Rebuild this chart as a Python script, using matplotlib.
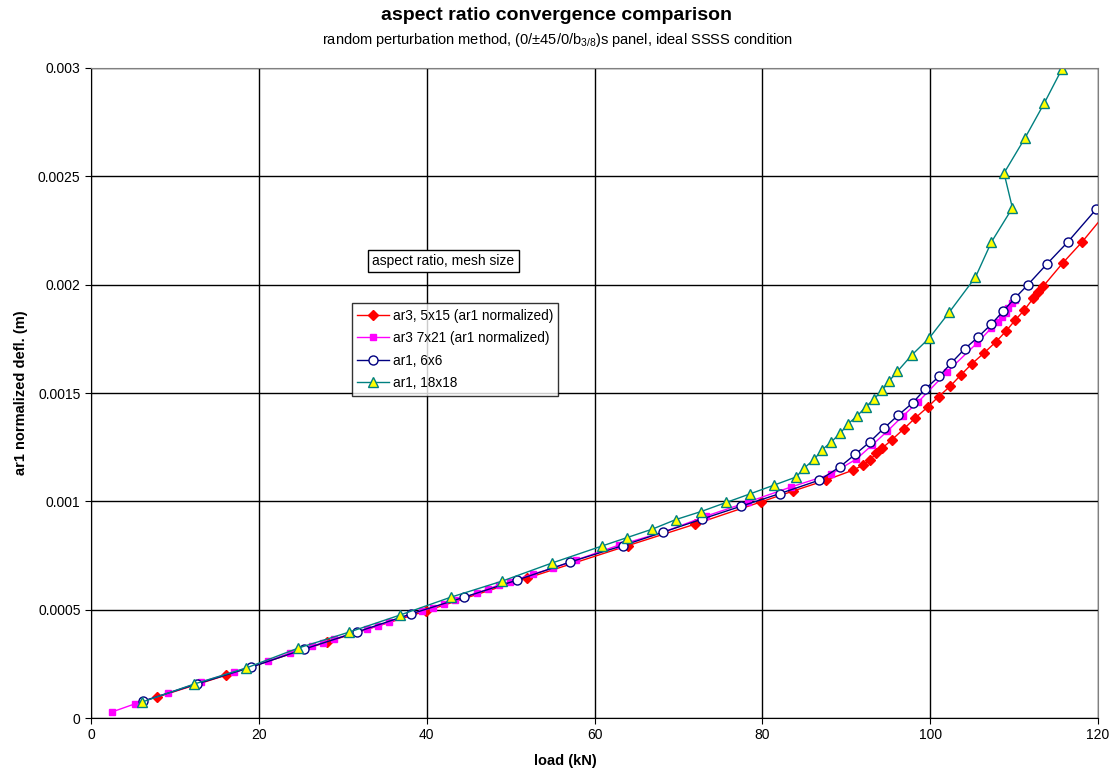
"""
Aspect ratio convergence comparison: load vs ar1 normalized deflection
"""
import matplotlib
matplotlib.use('Agg')
import matplotlib.pyplot as plt
from matplotlib.ticker import FuncFormatter

plt.rcParams['font.family'] = ['Liberation Sans', 'DejaVu Sans']
plt.rcParams['mathtext.fontset'] = 'custom'
plt.rcParams['mathtext.rm'] = 'Liberation Sans'
plt.rcParams['mathtext.it'] = 'Liberation Sans'

# ar3, 5x15 (ar1 normalized)
load_ar3_5x15 = [7.9, 16.1, 28.1, 39.9, 52.0, 64.0, 72.0, 79.8, 83.7, 87.6, 90.8, 92.0,
                 92.8, 93.6, 94.3, 95.4, 96.9, 98.2, 99.7, 101.0, 102.4, 103.7, 105.0,
                 106.4, 107.8, 109.0, 110.1, 111.2, 112.3, 112.9, 113.5, 115.8, 118.1, 122.0]
defl_ar3_5x15 = [0.097, 0.198, 0.351, 0.494, 0.646, 0.796, 0.895, 0.997, 1.048, 1.098, 1.144, 1.167,
                 1.190, 1.223, 1.246, 1.283, 1.336, 1.384, 1.435, 1.483, 1.532, 1.585, 1.636,
                 1.684, 1.735, 1.784, 1.835, 1.882, 1.938, 1.966, 1.994, 2.100, 2.197, 2.38]

# ar3 7x21 (ar1 normalized)
load_ar3_7x21 = [2.5, 5.2, 9.2, 13.1, 17.0, 21.1, 23.7, 26.3, 27.7, 29.0, 32.9, 34.2, 35.5,
                 39.4, 40.8, 42.1, 43.4, 46.0, 47.3, 48.6, 49.9, 52.7, 55.1, 57.8, 62.9,
                 68.2, 73.3, 78.3, 83.4, 88.2, 91.2, 93.1, 94.9, 96.8, 98.6, 102.0, 105.6,
                 107.3, 108.1, 108.5, 109.0, 109.3, 109.7, 110.1]
defl_ar3_7x21 = [0.028, 0.065, 0.115, 0.166, 0.212, 0.263, 0.300, 0.332, 0.348, 0.365, 0.411, 0.425, 0.443,
                 0.496, 0.510, 0.528, 0.543, 0.577, 0.595, 0.614, 0.628, 0.665, 0.692, 0.729, 0.798,
                 0.858, 0.932, 0.997, 1.066, 1.126, 1.195, 1.260, 1.324, 1.396, 1.460, 1.597, 1.731,
                 1.800, 1.828, 1.852, 1.869, 1.892, 1.915, 1.929]

# ar1, 6x6
load_ar1_6x6 = [6.2, 12.6, 19.1, 25.4, 31.7, 38.1, 44.5, 50.8, 57.1, 63.4, 68.2, 72.8, 77.5,
                82.1, 86.8, 89.2, 91.1, 92.8, 94.5, 96.2, 97.9, 99.4, 101.1, 102.5, 104.1,
                105.7, 107.3, 108.7, 110.1, 111.6, 113.9, 116.4, 119.8, 123.0]
defl_ar1_6x6 = [0.078, 0.157, 0.235, 0.318, 0.397, 0.480, 0.558, 0.637, 0.720, 0.796, 0.858, 0.918, 0.978,
                1.036, 1.098, 1.158, 1.218, 1.274, 1.338, 1.398, 1.454, 1.518, 1.578, 1.638, 1.703,
                1.758, 1.818, 1.878, 1.938, 1.998, 2.095, 2.197, 2.349, 2.48]

# ar1, 18x18
load_ar1_18x18 = [6.1, 12.3, 18.5, 24.7, 30.8, 36.8, 42.9, 49.0, 54.9, 60.9, 63.9, 66.9, 69.7,
                  72.7, 75.7, 78.5, 81.4, 84.0, 85.0, 86.2, 87.1, 88.2, 89.3, 90.2, 91.3, 92.3,
                  93.3, 94.3, 95.1, 96.1, 97.8, 99.9, 102.3, 105.4, 107.3, 109.8, 108.8, 111.3,
                  113.6, 115.7]
defl_ar1_18x18 = [0.074, 0.157, 0.231, 0.323, 0.397, 0.475, 0.558, 0.632, 0.715, 0.794, 0.833, 0.872, 0.916,
                  0.953, 0.995, 1.034, 1.075, 1.112, 1.154, 1.195, 1.237, 1.274, 1.315, 1.357, 1.394, 1.435,
                  1.472, 1.514, 1.555, 1.600, 1.675, 1.754, 1.874, 2.035, 2.197, 2.354, 2.515, 2.677,
                  2.838, 2.995]

labels = ['ar3, 5x15 (ar1 normalized)', 'ar3 7x21 (ar1 normalized)', 'ar1, 6x6', 'ar1, 18x18']

fig = plt.figure(figsize=(11.17, 7.77), dpi=100)
ax = fig.add_axes([0.0815, 0.0759, 0.9015, 0.8366])

s = 1e-3
ax.plot(load_ar3_5x15, [v * s for v in defl_ar3_5x15], color='#FF0000', lw=1,
        marker='D', ms=5, mfc='#FF0000', mec='#FF0000', label=labels[0])
ax.plot(load_ar3_7x21, [v * s for v in defl_ar3_7x21], color='#FF00FF', lw=1,
        marker='s', ms=5, mfc='#FF00FF', mec='#FF00FF', label=labels[1])
ax.plot(load_ar1_6x6, [v * s for v in defl_ar1_6x6], color='#000080', lw=1,
        marker='o', ms=6.5, mfc='white', mec='#000080', mew=1, label=labels[2])
ax.plot(load_ar1_18x18, [v * s for v in defl_ar1_18x18], color='#008080', lw=1,
        marker='^', ms=7, mfc='#FFFF00', mec='#008080', mew=1, label=labels[3])

ax.set_xlim(0, 120)
ax.set_ylim(0, 0.003)
ax.set_xticks(range(0, 121, 20))
ax.set_yticks([0, 0.0005, 0.001, 0.0015, 0.002, 0.0025, 0.003])
ax.yaxis.set_major_formatter(FuncFormatter(lambda v, p: '0' if v == 0 else f'{v:g}'))
ax.grid(True, color='black', lw=1)
ax.set_axisbelow(True)
ax.tick_params(direction='out', length=4, labelsize=10)
for side in ['top', 'right']:
    ax.spines[side].set_color('#808080')
ax.set_xlabel('load (kN)', fontsize=10.5, fontweight='bold')
ax.xaxis.set_label_coords((565 - 91) / 1007, -0.055)
ax.set_ylabel('ar1 normalized defl. (m)', fontsize=10.5, fontweight='bold', labelpad=7)

fig.text(0.498, 0.980, 'aspect ratio convergence comparison', ha='center', va='center',
         fontsize=14, fontweight='bold')
fig.text(0.499, 0.949, r'random perturbation method, (0/$\pm$45/0/b$_{3/8}$)s panel, ideal SSSS condition',
         ha='center', va='center', fontsize=10.5)

ax.text(0.35, 0.703, 'aspect ratio, mesh size', transform=ax.transAxes, ha='center', va='center',
        fontsize=10, bbox=dict(boxstyle='square,pad=0.3', fc='white', ec='black', lw=1))

leg = ax.legend(loc='upper left', bbox_to_anchor=(0.259, 0.638), borderaxespad=0,
                fontsize=9.8, frameon=True, fancybox=False, handlelength=2.3,
                handletextpad=0.3, labelspacing=0.62, borderpad=0.4)
leg.get_frame().set_edgecolor('black')
leg.get_frame().set_linewidth(1)

plt.savefig('out.png', dpi=100)
